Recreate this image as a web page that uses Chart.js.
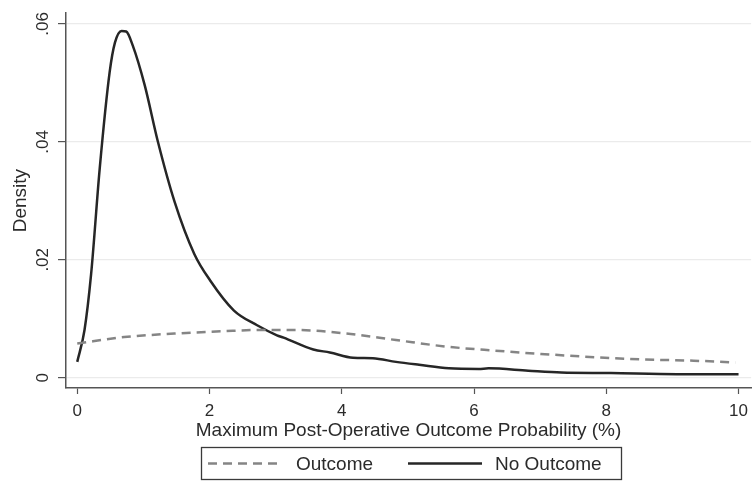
<!DOCTYPE html>
<html>
<head>
<meta charset="utf-8">
<script src="https://cdn.jsdelivr.net/npm/chart.js@4/dist/chart.umd.min.js"></script>
<style>
  html, body { margin: 0; padding: 0; background: #fff; }
  #wrap { width: 755px; height: 482px; }
</style>
</head>
<body>
<div id="wrap"><canvas id="myChart" width="755" height="482"></canvas></div>
<script>
// kernel density estimates
var outcomeX = [0, 0.71, 1.47, 2.22, 2.72, 3.32, 4.07, 4.82, 5.57, 6.32, 7.07, 7.82, 8.57, 9.32, 9.95];
var outcomeY = [0.0058, 0.0069, 0.0075, 0.0079, 0.0081, 0.0081, 0.0075, 0.0064, 0.0053, 0.0046, 0.0040, 0.0035, 0.0031, 0.0029, 0.0026];

var noOutcomeX = [0, 0.11, 0.21, 0.34, 0.49, 0.57, 0.67, 0.74, 0.84, 1.02, 1.22, 1.47, 1.77, 2.01, 2.37, 2.72, 3.02, 3.12, 3.57, 3.82, 4.17, 4.47, 4.82, 5.17, 5.62, 6.07, 6.22, 6.82, 7.32, 8.07, 9.07, 10];
var noOutcomeY = [0.0027, 0.0081, 0.0176, 0.0355, 0.0518, 0.0568, 0.0588, 0.0587, 0.0563, 0.0496, 0.0400, 0.0299, 0.0210, 0.0165, 0.0114, 0.0089, 0.0072, 0.0068, 0.0048, 0.0043, 0.0034, 0.0033, 0.0027, 0.0022, 0.0016, 0.0015, 0.0016, 0.0012, 0.0009, 0.0008, 0.0006, 0.0006];

var xTicks = [0, 2, 4, 6, 8, 10];
var yTicks = [0, 0.02, 0.04, 0.06];

function pts(xs, ys) {
  return xs.map(function (x, i) { return { x: x, y: ys[i] }; });
}

var FONT = 'Liberation Sans, Arial, sans-serif';
var TEXT = '#2b2b2b';

// Stata-style boxed legend under the x title
var boxLegend = {
  id: 'boxLegend',
  afterDraw: function (chart) {
    var ctx = chart.ctx;
    var ds = chart.data.datasets;
    var left = 201, top = 447, w = 420, h = 32;
    ctx.save();
    ctx.strokeStyle = '#3a3a3a';
    ctx.lineWidth = 1.3;
    ctx.strokeRect(left + 0.5, top + 0.5, w, h);
    var cy = top + h / 2 + 0.5;
    var items = [
      { x0: 208, x1: 280, tx: 296 },
      { x0: 408, x1: 482, tx: 495 }
    ];
    items.forEach(function (it, i) {
      var d = ds[i];
      ctx.beginPath();
      ctx.setLineDash(d.borderDash || []);
      ctx.strokeStyle = d.borderColor;
      ctx.lineWidth = d.borderWidth;
      ctx.moveTo(it.x0, cy);
      ctx.lineTo(it.x1, cy);
      ctx.stroke();
      ctx.setLineDash([]);
      ctx.fillStyle = TEXT;
      ctx.font = '19px ' + FONT;
      ctx.textBaseline = 'middle';
      ctx.textAlign = 'left';
      ctx.fillText(d.label, it.tx, cy + 1);
    });
    ctx.restore();
  }
};

var ctx = document.getElementById('myChart').getContext('2d');
var myChart = new Chart(ctx, {
  type: 'scatter',
  data: {
    datasets: [
      {
        label: 'Outcome',
        data: pts(outcomeX, outcomeY),
        showLine: true,
        borderColor: '#858585',
        borderWidth: 2.5,
        borderDash: [9, 6],
        pointRadius: 0,
        tension: 0.4,
        cubicInterpolationMode: 'monotone'
      },
      {
        label: 'No Outcome',
        data: pts(noOutcomeX, noOutcomeY),
        showLine: true,
        borderColor: '#262626',
        borderWidth: 2.5,
        pointRadius: 0,
        tension: 0.4,
        cubicInterpolationMode: 'monotone'
      }
    ]
  },
  options: {
    responsive: false,
    animation: false,
    layout: { padding: { top: 9, right: 0, left: 0, bottom: 40 } },
    plugins: {
      legend: { display: false },
      tooltip: { enabled: false }
    },
    scales: {
      x: {
        type: 'linear',
        min: -0.17,
        max: 10.19,
        afterBuildTicks: function (s) { s.ticks = xTicks.map(function (v) { return { value: v }; }); },
        afterFit: function (s) { s.height = 54; },
        grid: { drawOnChartArea: false, tickLength: 6, tickColor: '#555', tickWidth: 1.2 },
        border: { color: '#555', width: 1.5 },
        ticks: {
          padding: 7,
          color: TEXT,
          font: { family: FONT, size: 17 },
          maxRotation: 0,
          callback: function (v) { return String(v); }
        },
        title: {
          display: true,
          text: 'Maximum Post-Operative Outcome Probability (%)',
          color: TEXT,
          font: { family: FONT, size: 19 },
          padding: { top: 0, bottom: 0 }
        }
      },
      y: {
        min: -0.00173,
        max: 0.0618,
        afterBuildTicks: function (s) { s.ticks = yTicks.map(function (v) { return { value: v }; }); },
        afterFit: function (s) { s.width = 66; },
        grid: { color: '#ebebeb', lineWidth: 1.2, tickLength: 8, tickColor: '#555', tickWidth: 1.2 },
        border: { color: '#555', width: 1.5 },
        ticks: {
          padding: 3,
          minRotation: 90,
          maxRotation: 90,
          crossAlign: 'center',
          color: TEXT,
          font: { family: FONT, size: 17 },
          callback: function (v) { return v === 0 ? '0' : String(v).replace(/^0/, ''); }
        },
        title: {
          display: true,
          text: 'Density',
          color: TEXT,
          font: { family: FONT, size: 19 },
          padding: { top: 9, bottom: 0 }
        }
      }
    }
  },
  plugins: [boxLegend]
});
</script>
</body>
</html>
